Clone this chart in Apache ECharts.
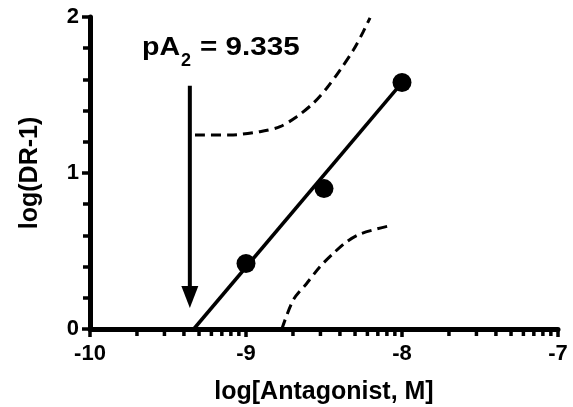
<!DOCTYPE html>
<html>
<head>
<meta charset="utf-8">
<script src="https://cdn.jsdelivr.net/npm/echarts@6/dist/echarts.min.js"></script>
<style>
  html, body { margin: 0; padding: 0; background: #fff; }
  #main { width: 573px; height: 407px; }
</style>
</head>
<body>
<div id="main"></div>
<script>
  // data
  const doseX = [-9, -8.5, -8];
  const logDR = [0.42, 0.90, 1.58];
  const fitX = [-9.335, -8];
  const fitY = [0, 1.58];
  const upperX = [-9.327, -9.103, -8.91, -8.782, -8.675, -8.569, -8.483, -8.397, -8.312, -8.248, -8.205];
  const upperY = [1.244, 1.244, 1.265, 1.297, 1.361, 1.447, 1.543, 1.66, 1.788, 1.906, 1.995];
  const lowerX = [-8.77, -8.697, -8.611, -8.526, -8.44, -8.354, -8.258, -8.077];
  const lowerY = [0, 0.186, 0.292, 0.399, 0.485, 0.56, 0.613, 0.662];
  // arrow: x, top, tip
  const arrow = [[-9.36, 1.56, 0.135]];
  // log-spaced minor ticks inside each decade
  const decades = [-10, -9, -8];
  const minorMult = [2, 3, 4, 5, 6, 7, 8, 9];
  const minorX = [];
  decades.forEach(d => minorMult.forEach(m => minorX.push(d + Math.log10(m))));

  const zip = (a, b) => a.map((v, i) => [v, b[i]]);
  const font = "'Liberation Sans', Arial, sans-serif";

  let myChart = echarts.init(document.getElementById('main'));

  myChart.setOption({
    animation: false,
    grid: { left: 90, right: 15, top: 17, bottom: 78, containLabel: false, outerBoundsMode: 'none' },
    xAxis: {
      type: 'value', min: -10, max: -7, interval: 1,
      name: 'log[Antagonist, M]', nameLocation: 'middle', nameGap: 51,
      nameTextStyle: { fontFamily: font, fontWeight: 'bold', fontSize: 25, color: '#000' },
      axisLine: { onZero: false, lineStyle: { color: '#000', width: 5, opacity: 1 } },
      axisTick: { length: 8, lineStyle: { width: 3.5, color: '#000', opacity: 1 } },
      axisLabel: { fontFamily: font, fontWeight: 'bold', fontSize: 22, color: '#000', margin: 14 },
      splitLine: { show: false }
    },
    yAxis: {
      type: 'value', min: 0, max: 2, interval: 1,
      name: 'log(DR-1)', nameLocation: 'middle', nameGap: 47,
      nameTextStyle: { fontFamily: font, fontWeight: 'bold', fontSize: 25, color: '#000' },
      axisLine: { show: true, onZero: false, lineStyle: { color: '#000', width: 5, opacity: 1 } },
      axisTick: { show: true, length: 8, lineStyle: { width: 3.5, color: '#000', opacity: 1 } },
      minorTick: { show: true, splitNumber: 5, length: 7, lineStyle: { width: 3.5, color: '#000', opacity: 1 } },
      axisLabel: { fontFamily: font, fontWeight: 'bold', fontSize: 22, color: '#000', margin: 11 },
      splitLine: { show: false }
    },
    graphic: [
      { type: 'text', x: 142, y: 48, scaleX: 1.1, style: { text: 'pA', font: 'bold 26px ' + font, fill: '#000', verticalAlign: 'middle' } },
      { type: 'text', x: 181, y: 61, style: { text: '2', font: 'bold 18px ' + font, fill: '#000', verticalAlign: 'middle' } },
      { type: 'text', x: 200, y: 48, scaleX: 1.14, style: { text: '= 9.335', font: 'bold 26px ' + font, fill: '#000', verticalAlign: 'middle' } }
    ],
    series: [
      {
        type: 'custom', silent: true, clip: false,
        data: minorX.map(v => [v]),
        renderItem: function (params, api) {
          const p = api.coord([api.value(0), 0]);
          return { type: 'line', shape: { x1: p[0], y1: p[1], x2: p[0], y2: p[1] + 7 },
                   style: { stroke: '#000', lineWidth: 3.5 } };
        }
      },
      {
        type: 'line', data: zip(fitX, fitY), symbol: 'none',
        lineStyle: { color: '#000', width: 3.5, opacity: 1 }, z: 3
      },
      {
        type: 'line', data: zip(upperX, upperY), symbol: 'none', smooth: 0.3,
        lineStyle: { color: '#000', width: 3, type: [10, 6], opacity: 1 }
      },
      {
        type: 'line', data: zip(lowerX, lowerY), symbol: 'none', smooth: 0.3,
        lineStyle: { color: '#000', width: 3, type: [10, 6], opacity: 1 }
      },
      {
        type: 'scatter', data: zip(doseX, logDR), symbolSize: 19,
        itemStyle: { color: '#000', opacity: 1 }, z: 4
      },
      {
        type: 'custom', silent: true, clip: false,
        data: arrow,
        renderItem: function (params, api) {
          const top = api.coord([api.value(0), api.value(1)]);
          const tip = api.coord([api.value(0), api.value(2)]);
          const head = 22, half = 8.5;
          return {
            type: 'group',
            children: [
              { type: 'line', shape: { x1: top[0], y1: top[1], x2: tip[0], y2: tip[1] - head + 2 },
                style: { stroke: '#000', lineWidth: 4 } },
              { type: 'polygon', shape: { points: [[tip[0], tip[1]], [tip[0] - half, tip[1] - head], [tip[0] + half, tip[1] - head]] },
                style: { fill: '#000' } }
            ]
          };
        }
      }
    ]
  });
</script>
</body>
</html>
